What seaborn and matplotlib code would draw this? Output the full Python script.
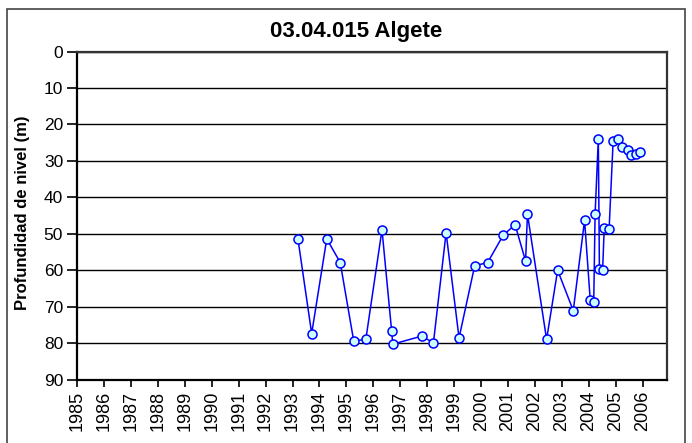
import numpy as np
import pandas as pd
import matplotlib
matplotlib.use("Agg")
import matplotlib.pyplot as plt
import seaborn as sns
from matplotlib.patches import Rectangle


TITLE = "03.04.015 Algete"
Y_LABEL = "Profundidad de nivel (m)"

# fecha de medida (año decimal) y profundidad del nivel (m)
years = [
    1993.20, 1993.71, 1994.27, 1994.77, 1995.27, 1995.72, 1996.32, 1996.68,
    1996.72, 1997.79, 1998.23, 1998.70, 1999.18, 1999.76, 2000.24, 2000.82,
    2001.26, 2001.65, 2001.72, 2002.43, 2002.84, 2003.42, 2003.84, 2004.05,
    2004.18, 2004.23, 2004.35, 2004.39, 2004.51, 2004.57, 2004.75, 2004.90,
    2005.08, 2005.23, 2005.46, 2005.58, 2005.75, 2005.91,
]
depths = [
    51.4, 77.4, 51.4, 57.9, 79.4, 79.0, 48.9, 76.8,
    80.3, 78.1, 79.9, 49.7, 78.6, 58.8, 57.9, 50.4,
    47.5, 57.5, 44.6, 79.0, 60.0, 71.1, 46.3, 68.2,
    68.6, 44.7, 24.0, 59.6, 59.9, 48.3, 48.8, 24.5,
    24.0, 26.1, 26.9, 28.5, 28.1, 27.7,
]
year_ticks = list(range(1985, 2007))
depth_ticks = list(range(0, 91, 10))

df = pd.DataFrame({"Fecha": years, "Profundidad": depths})

sns.set_style("white")
plt.rcParams["font.family"] = ["Liberation Sans", "DejaVu Sans"]
plt.rcParams["text.color"] = "black"
plt.rcParams["xtick.color"] = "black"
plt.rcParams["ytick.color"] = "black"

fig = plt.figure(figsize=(6.92, 4.43), dpi=100)
ax = fig.add_axes([0.1113, 0.1433, 0.8526, 0.7404])

sns.lineplot(
    data=df, x="Fecha", y="Profundidad", sort=False, ax=ax,
    color="#0000ff", linewidth=1.1, marker="o", markersize=6.5,
    markerfacecolor="#ccffff", markeredgecolor="#0000ff", markeredgewidth=1.1,
)

ax.set_xlim(1985, 2006.9)
ax.set_ylim(90, 0)
ax.set_xticks(year_ticks)
ax.set_xticklabels([str(y) for y in year_ticks], rotation=90)
ax.set_yticks(depth_ticks)
ax.set_xlabel("")
ax.set_ylabel("")
ax.yaxis.grid(True, color="black", linewidth=1.0)
ax.xaxis.grid(False)
ax.set_axisbelow(True)

ax.tick_params(axis="y", left=True, direction="out", length=7, width=1.2,
               pad=3, labelsize=12.5, colors="black")
ax.tick_params(axis="x", bottom=True, direction="out", length=5, width=1.2,
               pad=3, labelsize=13, colors="black")
for side in ["left", "bottom"]:
    ax.spines[side].set_color("black")
    ax.spines[side].set_linewidth(1.6)
for side in ["top", "right"]:
    ax.spines[side].set_color("#333333")
    ax.spines[side].set_linewidth(1.6)

fig.text(0.514, 0.928, TITLE, ha="center", va="center",
         fontsize=16, fontweight="bold", color="black")
fig.text(0.032, 0.519, Y_LABEL, ha="center", va="center", rotation=90,
         fontsize=12, fontweight="bold", color="black")

fig.patches.append(Rectangle((0.0105, -0.02), 0.979, 0.9995, transform=fig.transFigure,
                             fill=False, edgecolor="#444444", linewidth=1.2))

fig.savefig("out.png", dpi=100)
